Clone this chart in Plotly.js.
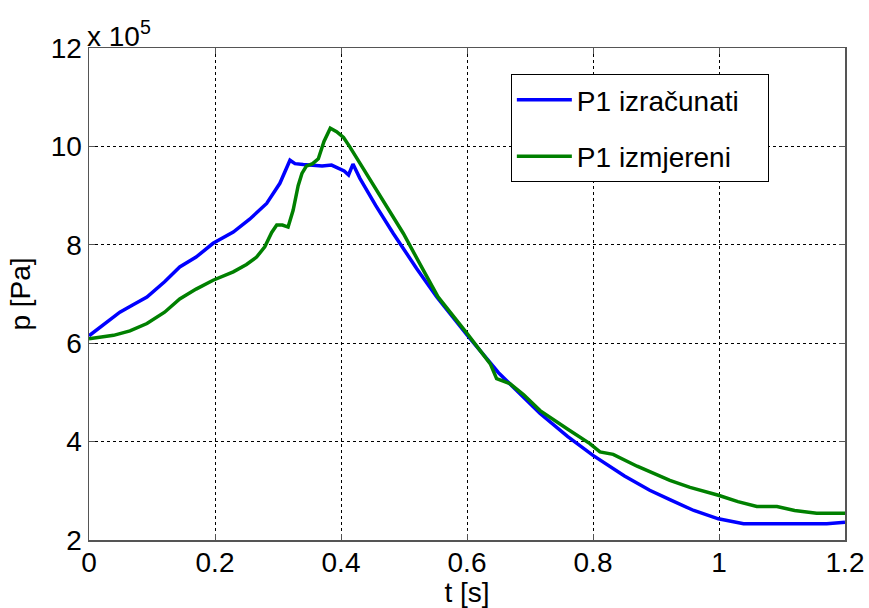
<!DOCTYPE html>
<html>
<head>
<meta charset="utf-8">
<script src="https://cdn.plot.ly/plotly-3.0.1.min.js"></script>
<style>html,body{margin:0;padding:0;background:#fff;}#chart{width:869px;height:608px;}</style>
</head>
<body>
<div id="chart"></div>
<script>
// pressure values in units of 1e5 Pa
const tCalc = [0.0,0.02,0.049,0.07,0.092,0.12,0.144,0.17,0.197,0.229,0.255,0.282,0.303,0.319,0.327,0.34,0.356,0.37,0.385,0.393,0.405,0.412,0.419,0.43,0.455,0.483,0.52,0.552,0.6,0.65,0.716,0.76,0.8,0.85,0.89,0.922,0.96,0.999,1.02,1.039,1.1,1.171,1.2];
const pCalc = [6.15,6.35,6.63,6.78,6.94,7.25,7.55,7.75,8.03,8.26,8.52,8.84,9.25,9.72,9.65,9.63,9.62,9.60,9.62,9.57,9.50,9.42,9.64,9.35,8.80,8.23,7.52,6.94,6.17,5.40,4.57,4.10,3.72,3.30,3.01,2.82,2.60,2.43,2.37,2.33,2.33,2.33,2.36];
const tMeas = [0,0.039,0.065,0.092,0.12,0.144,0.17,0.197,0.229,0.25,0.266,0.279,0.29,0.298,0.307,0.316,0.324,0.332,0.338,0.345,0.355,0.364,0.373,0.383,0.393,0.404,0.414,0.44,0.467,0.499,0.53,0.554,0.6,0.637,0.647,0.668,0.69,0.716,0.76,0.795,0.811,0.832,0.87,0.922,0.954,0.999,1.03,1.06,1.092,1.12,1.155,1.2];
const pMeas = [6.09,6.16,6.25,6.40,6.63,6.90,7.10,7.28,7.45,7.60,7.75,7.96,8.25,8.40,8.40,8.36,8.70,9.20,9.45,9.60,9.65,9.75,10.10,10.37,10.30,10.18,9.99,9.45,8.91,8.23,7.50,6.94,6.20,5.58,5.28,5.18,4.95,4.63,4.25,3.96,3.79,3.74,3.50,3.21,3.07,2.91,2.78,2.68,2.68,2.60,2.545,2.545];
const seriesNames = ["P1 izračunati","P1 izmjereni"];
const xTicks = [0,0.2,0.4,0.6,0.8,1,1.2];
const xTickText = ["0","0.2","0.4","0.6","0.8","1","1.2"];
const yTicks = [2,4,6,8,10,12];

const fam = "Arial, Liberation Sans, sans-serif";
const font = {family:fam, size:28, color:"#000"};
const pad = "\u00a0\u00a0\u00a0";
const traces = [
  {x:tCalc, y:pCalc, name:seriesNames[0] + pad, legendgroup:"a", mode:"lines", line:{color:"#0000ff", width:3.5}},
  {x:tMeas, y:pMeas, name:seriesNames[1] + pad, legendgroup:"b", mode:"lines", line:{color:"#008000", width:3.5}}
];
const axisCommon = {showline:true, mirror:"ticks", linecolor:"#555", linewidth:1.5,
  ticks:"inside", ticklen:6, tickcolor:"#555", showgrid:true, gridcolor:"#000",
  griddash:"dot", gridwidth:1, zeroline:false, tickfont:font};
const layout = {
  width:869, height:608,
  margin:{l:89, r:24, t:48, b:68},
  paper_bgcolor:"#fff", plot_bgcolor:"#fff",
  font:font,
  showlegend:true,
  legend:{x:0.558, y:0.947, xanchor:"left", yanchor:"top", bordercolor:"#000", borderwidth:1,
    bgcolor:"#fff", font:{family:fam, size:28, color:"#000"}, tracegroupgap:17, itemwidth:55,
    traceorder:"grouped"},
  xaxis:Object.assign({}, axisCommon, {range:[0,1.2], tickvals:xTicks, ticktext:xTickText,
    ticklabelstandoff:-3, title:{text:"t [s]", font:font, standoff:0}}),
  yaxis:Object.assign({}, axisCommon, {range:[2,12], tickvals:yTicks,
    title:{text:"p [Pa]", font:font, standoff:12}}),
  annotations:[{xref:"paper", yref:"paper", x:0, y:1, xanchor:"left", yanchor:"bottom",
    text:"x 10<sup>5</sup>", showarrow:false, font:{family:fam, size:28, color:"#000"}, yshift:-6, xshift:-4}]
};
Plotly.newPlot("chart", traces, layout, {displayModeBar:false, staticPlot:true});
</script>
</body>
</html>
